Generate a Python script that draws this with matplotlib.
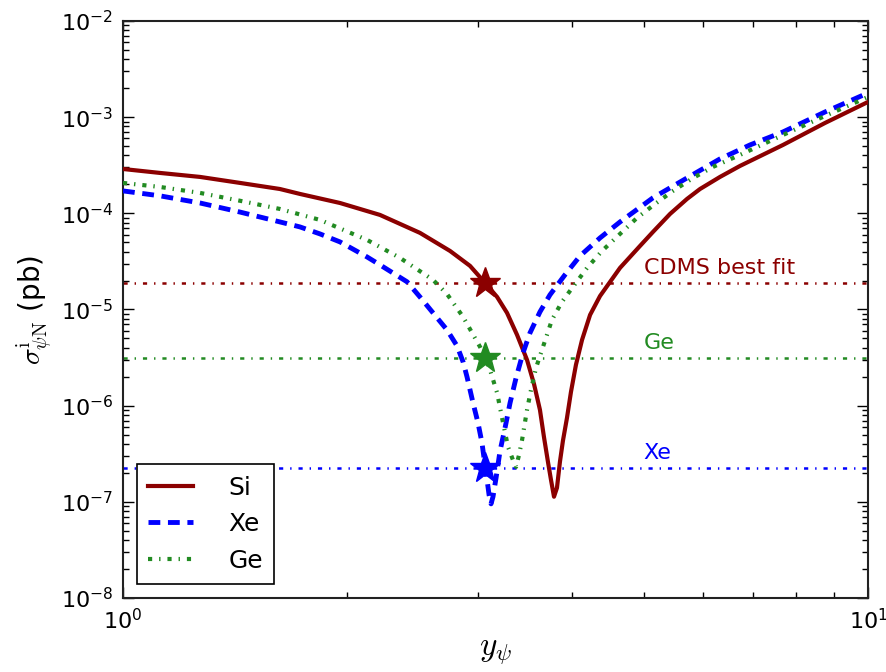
import matplotlib
matplotlib.use("Agg")
import matplotlib.pyplot as plt
from matplotlib.ticker import LogLocator, LogFormatterMathtext, NullFormatter

# ---------------- data ----------------
si_x = [1.000, 1.121, 1.269, 1.436, 1.624, 1.728, 1.956, 2.213, 2.504, 2.748, 2.923, 3.062,
        3.178, 3.277, 3.380, 3.486, 3.562, 3.628, 3.673, 3.719, 3.754, 3.789,
        3.824, 3.859, 3.895, 3.944, 3.993, 4.055, 4.132, 4.236, 4.368, 4.647, 4.943,
        5.145, 5.424, 5.715, 5.950, 6.329, 6.733, 7.690, 8.756, 10.0]
si_y = [2.89e-4, 2.63e-4, 2.39e-4, 2.07e-4, 1.79e-4, 1.59e-4, 1.28e-4, 9.62e-5, 6.26e-5, 4.06e-5, 2.84e-5, 1.89e-5,
        1.35e-5, 9.22e-6, 5.45e-6, 2.99e-6, 1.68e-6, 9.04e-7, 4.74e-7, 2.60e-7, 1.69e-7, 1.13e-7,
        1.40e-7, 2.60e-7, 4.31e-7, 7.46e-7, 1.39e-6, 2.66e-6, 4.83e-6, 8.79e-6, 1.38e-5, 2.71e-5, 4.58e-5,
        6.41e-5, 9.86e-5, 1.41e-4, 1.79e-4, 2.39e-4, 3.11e-4, 5.14e-4, 8.70e-4, 1.439e-3]

xe_x = [1.000, 1.121, 1.269, 1.436, 1.624, 1.728, 1.838, 1.956, 2.126, 2.213, 2.406, 2.504, 2.607,
        2.722, 2.808, 2.861, 2.896, 2.950, 2.996, 3.033, 3.062, 3.081, 3.100, 3.119,
        3.138, 3.168, 3.207, 3.257, 3.308, 3.370, 3.443, 3.518, 3.628, 3.742, 3.919, 4.107,
        4.368, 4.647, 5.145, 5.715, 6.329, 6.944, 7.690, 8.756, 10.0]
xe_y = [1.71e-4, 1.52e-4, 1.28e-4, 1.03e-4, 8.14e-5, 7.22e-5, 6.11e-5, 5.04e-5, 3.52e-5, 2.91e-5, 1.94e-5, 1.35e-5, 9.22e-6,
        6.14e-6, 4.18e-6, 2.85e-6, 1.99e-6, 1.07e-6, 6.62e-7, 4.10e-7, 2.37e-7, 1.69e-7, 1.18e-7, 9.53e-8,
        1.13e-7, 1.78e-7, 3.39e-7, 5.88e-7, 1.07e-6, 1.95e-6, 3.54e-6, 5.71e-6, 9.44e-6, 1.42e-5, 2.29e-5, 3.61e-5,
        5.55e-5, 8.14e-5, 1.45e-4, 2.33e-4, 3.68e-4, 5.14e-4, 7.02e-4, 1.132e-3, 1.785e-3]

ge_x = [1.000, 1.121, 1.269, 1.436, 1.624, 1.838, 2.126, 2.354, 2.607, 2.722, 2.861, 3.015,
        3.062, 3.109, 3.178, 3.227, 3.287, 3.349, 3.370,
        3.401, 3.433, 3.486, 3.529, 3.584, 3.662, 3.765, 3.883, 4.018, 4.197, 4.395, 4.647,
        4.897, 5.177, 5.474, 5.823, 6.194, 6.733, 7.690, 8.756, 10.0]
ge_y = [2.07e-4, 1.88e-4, 1.63e-4, 1.35e-4, 1.11e-4, 8.54e-5, 5.29e-5, 3.44e-5, 2.03e-5, 1.45e-5, 8.37e-6, 4.08e-6,
        3.14e-6, 2.36e-6, 1.36e-6, 7.46e-7, 3.73e-7, 2.54e-7, 2.31e-7,
        3.08e-7, 4.41e-7, 9.04e-7, 1.46e-6, 2.47e-6, 4.08e-6, 7.80e-6, 1.20e-5, 1.72e-5, 2.71e-5, 4.06e-5, 6.11e-5,
        8.96e-5, 1.25e-4, 1.71e-4, 2.33e-4, 3.04e-4, 4.05e-4, 6.53e-4, 1.029e-3, 1.622e-3]

limit_names = ["CDMS best fit", "Ge", "Xe"]
limit_values = [1.89e-5, 3.14e-6, 2.26e-7]
star_x = 3.06
label_x = 5.0

# ---------------- style ----------------
plt.rcParams["lines.scale_dashes"] = False
red = "#8B0000"
blue = "#0000FF"
green = "#228B22"
limit_colors = [red, green, blue]

fig = plt.figure(figsize=(8.86, 6.72), dpi=100)
ax = fig.add_axes([0.1388, 0.1101, 0.8409, 0.8587])

for val, col in zip(limit_values, limit_colors):
    ax.axhline(val, color=col, lw=1.8, ls=(0, (3, 5, 1, 5)), zorder=1)

ax.plot(si_x, si_y, color=red, lw=3.0, label="Si", zorder=3, solid_joinstyle="round")
ax.plot(xe_x, xe_y, color=blue, lw=3.5, ls=(0, (8.5, 5.5)), label="Xe", zorder=3)
ax.plot(ge_x, ge_y, color=green, lw=3.0, ls=(0, (3, 5, 1, 5)), label="Ge", zorder=3)

for val, col in zip(limit_values, limit_colors):
    ax.plot([star_x], [val], marker="*", ms=23, color=col, mec=col, zorder=4)

for name, val, col in zip(limit_names, limit_values, limit_colors):
    ax.text(label_x, val * 1.12, name, color=col, fontsize=16, ha="left", va="bottom")

ax.set_xscale("log")
ax.set_yscale("log")
ax.set_xlim(1, 10)
ax.set_ylim(1e-8, 1e-2)

ax.xaxis.set_major_locator(LogLocator(base=10))
ax.yaxis.set_major_locator(LogLocator(base=10))
ax.xaxis.set_minor_locator(LogLocator(base=10, subs=range(2, 10)))
ax.yaxis.set_minor_locator(LogLocator(base=10, subs=range(2, 10), numticks=20))
ax.xaxis.set_major_formatter(LogFormatterMathtext())
ax.yaxis.set_major_formatter(LogFormatterMathtext())
ax.xaxis.set_minor_formatter(NullFormatter())
ax.yaxis.set_minor_formatter(NullFormatter())

ax.tick_params(which="both", direction="in", top=True, right=True, width=1.0, colors="black")
ax.tick_params(which="major", length=8, labelsize=16, pad=7)
ax.tick_params(which="minor", length=4)
for s in ax.spines.values():
    s.set_linewidth(1.5)
    s.set_color("#222222")

ax.set_xlabel(r"$y_\psi$", fontsize=24, math_fontfamily="cm", labelpad=0)
ax.set_ylabel(r"$\sigma^{\rm i}_{\psi{\rm N}}$ (pb)", fontsize=20, math_fontfamily="cm", labelpad=4)

leg = ax.legend(loc="lower left", bbox_to_anchor=(0.0188, 0.0243), borderaxespad=0,
                fontsize=18, fancybox=False, framealpha=1, edgecolor="black",
                handlelength=1.8, handletextpad=1.4, borderpad=0.45)
leg.get_frame().set_linewidth(1.2)

fig.savefig("out.png", dpi=100)
